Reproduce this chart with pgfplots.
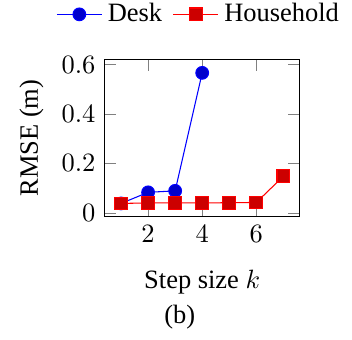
\documentclass[border=0pt]{standalone}
\usepackage{fontspec}
\setmainfont{Liberation Serif}
\usepackage{pgfplots}
\pgfplotsset{compat=1.18}
\begin{document}
\begin{tikzpicture}
\begin{axis}[
  name=ax,
  scale only axis,
  width=73.6pt, height=59.2pt,
  xtick={2,4,6},
  ytick={0,0.2,0.4,0.6},
  yticklabels={$0$,$0.2$,$0.4$,$0.6$},
  xlabel={Step size $k$},
  xlabel style={yshift=-3.5pt},
  ylabel={RMSE (m)},
  legend style={at={(0.49,1.29)},anchor=center,draw=none,legend columns=-1,fill=none,
    /tikz/every even column/.append style={column sep=2pt}},
  mark size=2.4pt,
]
\addplot coordinates {(1,0.038) (2,0.083) (3,0.089) (4,0.567)};
\addlegendentry{Desk}
\addplot coordinates {(1,0.038) (2,0.04) (3,0.04) (4,0.04) (5,0.041) (6,0.042) (7,0.148)};
\addlegendentry{Household}
\end{axis}
\node at ([xshift=28.3pt,yshift=-37.9pt]ax.south west) {(b)};
\pgfresetboundingbox
\useasboundingbox ([xshift=-39.6pt,yshift=-46.4pt]ax.south west) rectangle ([xshift=93.4pt,yshift=81.8pt]ax.south west);
\end{tikzpicture}
\end{document}
